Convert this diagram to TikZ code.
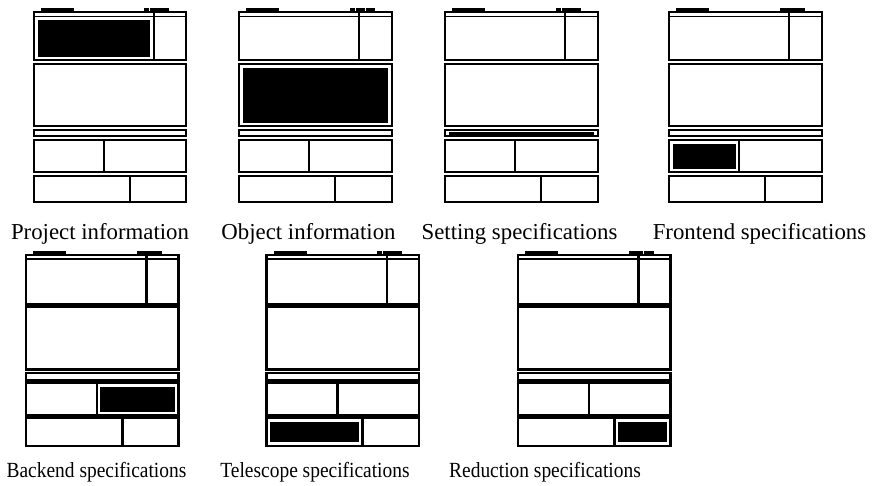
\documentclass[tikz,border=0pt]{standalone}
\usepackage{fontspec}
\setmainfont{Liberation Serif}
\newfontfamily\narrowserif[FakeStretch=0.9]{Liberation Serif}

\begin{document}
\begin{tikzpicture}[x=0.5pt, y=-0.5pt,
  lbl/.style={anchor=base, inner sep=0pt, font=\fontsize{11.4}{13}\selectfont},
  lbltwo/.style={lbl, font=\narrowserif\fontsize{10.8}{13}\selectfont}]
  \useasboundingbox (0,0) rectangle (876,486);

  % first row of forms
  \foreach \px/\ax/\ay/\bx/\by in {33.7/3.8/7.8/116/45.2, 239.3/3.9/56/148.4/110.7,
                                   445.3/3.9/119.7/148.4/122.6, 669.2/3.7/131.6/66.3/156.6} {
    \begin{scope}[shift={(\px,12)}, line width=1pt]
      \fill (7,-4.2) rectangle (40,0);
      \fill (110.5,-4.2) rectangle (135.5,0);
      \draw (0,0) rectangle (152.3,48.5);
      \draw[line width=0.7pt] (0,4.4) -- (152.3,4.4);
      \draw (120,0) -- (120,48.5);
      \draw (0,52.2) rectangle (152.3,114.3);
      \draw (0,117.9) rectangle (152.3,124.4);
      \draw (0,128) rectangle (152.3,160.2);
      \draw (70,128) -- (70,160.2);
      \draw (0,163.8) rectangle (152.3,190.2);
      \draw (96,163.8) -- (96,190.2);
      \fill (\ax,\ay) rectangle (\bx,\by);
    \end{scope}
  }

  % second row of forms
  \foreach \px/\ax/\ay/\bx/\by in {26.2/73.8/131.5/148.5/156.6, 266.5/3.8/167.4/92.3/186.6,
                                   518.2/99.7/167.4/148.5/186.6} {
    \begin{scope}[shift={(\px,255)}, line width=1.25pt]
      \fill (7,-4.2) rectangle (40,0);
      \fill (110.5,-4.2) rectangle (135.5,0);
      \draw (0,0) rectangle (152.3,49.5);
      \draw[line width=0.75pt] (0,4.2) -- (152.3,4.2);
      \draw (120.5,0) -- (120.5,49.5);
      \draw (0,51.8) rectangle (152.3,114.4);
      \draw (0,118.2) rectangle (152.3,125.2);
      \draw (0,127.5) rectangle (152.3,160.5);
      \draw (70.8,127.5) -- (70.8,160.5);
      \draw (0,162.8) rectangle (152.3,190.8);
      \draw (96.1,162.8) -- (96.1,190.8);
      \fill (\ax,\ay) rectangle (\bx,\by);
    \end{scope}
  }

  % small breaks in the right tabs
  \foreach \gx/\gy in {149.3/8, 355.5/8, 365.5/8, 561.3/8, 382.3/251, 643.4/251} {
    \fill[white] (\gx-0.6,\gy-0.5) rectangle (\gx+0.6,\gy+2.9);
  }

  \node[lbl] (lproj) at (100,239) {Project information};
  \node[lbl] (lobj) at (308.5,239) {Object information};
  \node[lbl] (lset) at (519.5,239) {Setting specifications};
  \node[lbl] (lfront) at (759.5,239) {Frontend specifications};
  \node[lbltwo] (lback) at (96.5,477) {Backend specifications};
  \node[lbltwo] (ltel) at (315,477) {Telescope specifications};
  \node[lbltwo] (lred) at (545,477) {Reduction specifications};

\end{tikzpicture}
\end{document}
